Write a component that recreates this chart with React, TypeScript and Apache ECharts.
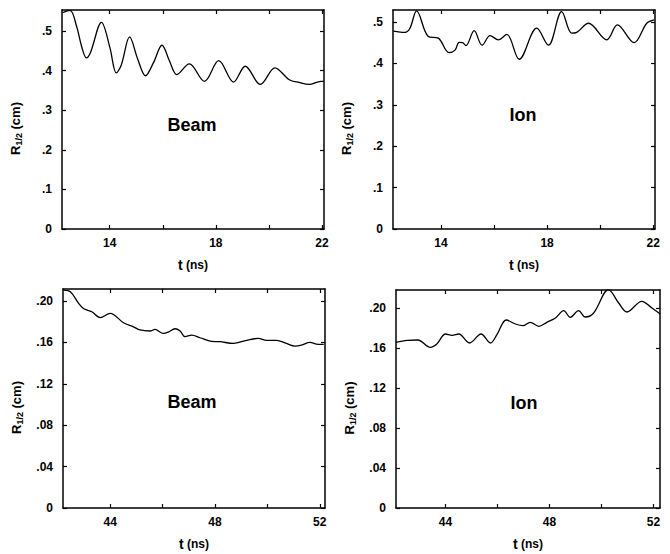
import React, { useEffect, useRef } from "react";
import * as echarts from "echarts";

// Panel 1: Beam, early time
const beamEarlyT = [12.22, 12.5, 12.75, 12.94, 13.12, 13.27, 13.69, 14.0, 14.25, 14.44, 14.75, 15.05, 15.35, 15.65, 15.97, 16.25, 16.53, 17.0, 17.57, 18.11, 18.67, 19.11, 19.68, 20.23, 20.77, 21.14, 21.52, 21.96, 22.07];
const beamEarlyR = [0.546, 0.552, 0.512, 0.461, 0.432, 0.445, 0.522, 0.46, 0.394, 0.415, 0.485, 0.43, 0.387, 0.42, 0.464, 0.425, 0.39, 0.417, 0.373, 0.425, 0.371, 0.411, 0.365, 0.407, 0.377, 0.37, 0.365, 0.373, 0.373];

// Panel 2: Ion, early time
const ionEarlyT = [12.2, 12.64, 12.83, 13.08, 13.52, 13.9, 14.3, 14.53, 14.68, 14.82, 14.94, 15.25, 15.55, 15.85, 16.16, 16.48, 16.95, 17.61, 18.05, 18.55, 18.93, 19.12, 19.56, 20.25, 20.65, 21.28, 21.76, 22.04];
const ionEarlyR = [0.478, 0.475, 0.485, 0.527, 0.465, 0.461, 0.426, 0.432, 0.451, 0.45, 0.443, 0.479, 0.444, 0.467, 0.457, 0.47, 0.41, 0.485, 0.444, 0.525, 0.473, 0.475, 0.497, 0.457, 0.493, 0.45, 0.497, 0.505];

// Panel 3: Beam, late time
const beamLateT = [42.22, 42.48, 42.79, 42.98, 43.3, 43.62, 44.0, 44.51, 44.89, 45.14, 45.52, 45.71, 46.03, 46.22, 46.48, 46.67, 46.86, 47.11, 47.43, 47.87, 48.19, 48.7, 49.21, 49.65, 49.97, 50.35, 50.73, 51.05, 51.3, 51.62, 51.94, 52.15];
const beamLateR = [0.2105, 0.2089, 0.198, 0.1928, 0.1896, 0.184, 0.188, 0.179, 0.175, 0.172, 0.171, 0.1725, 0.1687, 0.17, 0.1732, 0.171, 0.1655, 0.167, 0.1645, 0.161, 0.1607, 0.159, 0.162, 0.1639, 0.162, 0.162, 0.159, 0.1565, 0.1574, 0.16, 0.158, 0.158];

// Panel 4: Ion, late time
const ionLateT = [42.1, 42.53, 42.94, 43.42, 43.68, 44.0, 44.26, 44.51, 44.93, 45.37, 45.73, 45.98, 46.34, 46.69, 46.98, 47.26, 47.59, 47.9, 48.23, 48.55, 48.8, 49.12, 49.38, 49.7, 50.27, 50.66, 50.98, 51.55, 51.94, 52.26];
const ionLateR = [0.1657, 0.1677, 0.168, 0.1607, 0.1643, 0.174, 0.1727, 0.174, 0.165, 0.174, 0.165, 0.1733, 0.188, 0.184, 0.1823, 0.1857, 0.1817, 0.1857, 0.19, 0.1973, 0.1907, 0.1973, 0.191, 0.195, 0.2183, 0.205, 0.196, 0.2067, 0.2, 0.194];

// Tick values and labels
const earlyXTicks = [14, 16, 18, 20, 22];
const earlyXLabels = [14, 18, 22];
const earlyYTicks = [0, 0.1, 0.2, 0.3, 0.4, 0.5];
const lateXTicks = [44, 46, 48, 50, 52];
const lateXLabels = [44, 48, 52];
const lateYTicks = [0, 0.04, 0.08, 0.12, 0.16, 0.2];

const FONT = '"Liberation Sans", Arial, Helvetica, sans-serif';

type Panel = {
  t: number[];
  r: number[];
  grid: { left: number; top: number; width: number; height: number };
  xMin: number;
  xMax: number;
  yMax: number;
  xTicks: number[];
  xLabels: number[];
  yTicks: number[];
  digits: number;
  label: string;
  labelX: number;
  labelY: number;
};

const panels: Panel[] = [
  { t: beamEarlyT, r: beamEarlyR, grid: { left: 62, top: 10, width: 262, height: 219 }, xMin: 12.2, xMax: 22.08, yMax: 0.553, xTicks: earlyXTicks, xLabels: earlyXLabels, yTicks: earlyYTicks, digits: 1, label: "Beam", labelX: 192, labelY: 125 },
  { t: ionEarlyT, r: ionEarlyR, grid: { left: 393, top: 10, width: 262, height: 219 }, xMin: 12.19, xMax: 22.07, yMax: 0.529, xTicks: earlyXTicks, xLabels: earlyXLabels, yTicks: earlyYTicks, digits: 1, label: "Ion", labelX: 523, labelY: 115 },
  { t: beamLateT, r: beamLateR, grid: { left: 63, top: 289, width: 262, height: 219 }, xMin: 42.2, xMax: 52.2, yMax: 0.2116, xTicks: lateXTicks, xLabels: lateXLabels, yTicks: lateYTicks, digits: 2, label: "Beam", labelX: 192, labelY: 402 },
  { t: ionLateT, r: ionLateR, grid: { left: 396, top: 290, width: 264, height: 218 }, xMin: 42.1, xMax: 52.25, yMax: 0.218, xTicks: lateXTicks, xLabels: lateXLabels, yTicks: lateYTicks, digits: 2, label: "Ion", labelX: 524, labelY: 403 },
];

const lineCol = "#000";

function buildOption() {
  const grid: any[] = [];
  const xAxis: any[] = [];
  const yAxis: any[] = [];
  const series: any[] = [];
  const graphic: any[] = [];

  panels.forEach((p, i) => {
    grid.push({ ...p.grid, containLabel: false });
    const axisLine = { show: true, onZero: false, lineStyle: { color: lineCol, width: 1.5 } };
    const tickBase = { show: true, inside: true, length: 4, lineStyle: { color: lineCol, width: 1.2 } };
    xAxis.push({
      gridIndex: i,
      type: "value",
      position: "bottom",
      min: p.xMin,
      max: p.xMax,
      axisLine,
      axisTick: { ...tickBase, customValues: p.xTicks },
      axisLabel: { customValues: p.xLabels, margin: 8, color: lineCol, fontWeight: "bold", fontSize: 12, fontFamily: FONT },
      splitLine: { show: false },
      name: "{t|t} {n|(ns)}",
      nameLocation: "middle",
      nameGap: 29,
      nameTextStyle: {
        color: lineCol,
        rich: {
          t: { fontSize: 14, fontWeight: "bold", fontFamily: FONT, color: lineCol },
          n: { fontSize: 12, fontWeight: "bold", fontFamily: FONT, color: lineCol },
        },
      },
    });
    xAxis.push({
      gridIndex: i,
      type: "value",
      position: "top",
      min: p.xMin,
      max: p.xMax,
      axisLine,
      axisTick: { ...tickBase, customValues: p.xTicks },
      axisLabel: { show: false },
      splitLine: { show: false },
    });
    yAxis.push({
      gridIndex: i,
      type: "value",
      position: "left",
      min: 0,
      max: p.yMax,
      axisLine,
      axisTick: { ...tickBase, customValues: p.yTicks },
      axisLabel: {
        customValues: p.yTicks,
        margin: 10,
        color: lineCol,
        fontWeight: "bold",
        fontSize: 12,
        fontFamily: FONT,
        formatter: (v: number) => (Math.abs(v) < 1e-9 ? "0" : v.toFixed(p.digits).replace(/^0/, "")),
      },
      splitLine: { show: false },
      name: "{r|R}{s|1/2}{c| (cm)}",
      nameLocation: "middle",
      nameGap: 39,
      nameRotate: 90,
      nameTextStyle: {
        color: lineCol,
        padding: [0, 18, 0, 0],
        rich: {
          r: { fontSize: 13, fontWeight: "bold", fontFamily: FONT, color: lineCol, lineHeight: 16 },
          s: { fontSize: 9, fontWeight: "bold", fontFamily: FONT, color: lineCol, verticalAlign: "bottom", lineHeight: 16 },
          c: { fontSize: 13, fontWeight: "bold", fontFamily: FONT, color: lineCol, lineHeight: 16 },
        },
      },
    });
    yAxis.push({
      gridIndex: i,
      type: "value",
      position: "right",
      min: 0,
      max: p.yMax,
      axisLine,
      axisTick: { ...tickBase, customValues: p.yTicks },
      axisLabel: { show: false },
      splitLine: { show: false },
    });
    series.push({
      type: "line",
      xAxisIndex: 2 * i,
      yAxisIndex: 2 * i,
      data: p.t.map((t, k) => [t, p.r[k]]),
      showSymbol: false,
      smooth: 0.35,
      clip: true,
      lineStyle: { color: lineCol, width: 1.3 },
    });
    graphic.push({
      type: "text",
      x: p.labelX,
      y: p.labelY,
      style: {
        text: p.label,
        fill: lineCol,
        fontSize: 18,
        fontWeight: "bold",
        fontFamily: FONT,
        align: "center",
        verticalAlign: "middle",
      },
    });
  });

  return {
    animation: false,
    backgroundColor: "#fff",
    grid,
    xAxis,
    yAxis,
    series,
    graphic,
  };
}

export default function App() {
  const ref = useRef<HTMLDivElement>(null);
  useEffect(() => {
    if (!ref.current) return;
    const chart = echarts.init(ref.current, undefined, { renderer: "svg" });
    chart.setOption(buildOption() as any);
    return () => chart.dispose();
  }, []);
  return (
    <div
      ref={ref}
      style={{ position: "absolute", left: 0, top: 0, width: 670, height: 554, background: "#fff" }}
    />
  );
}
